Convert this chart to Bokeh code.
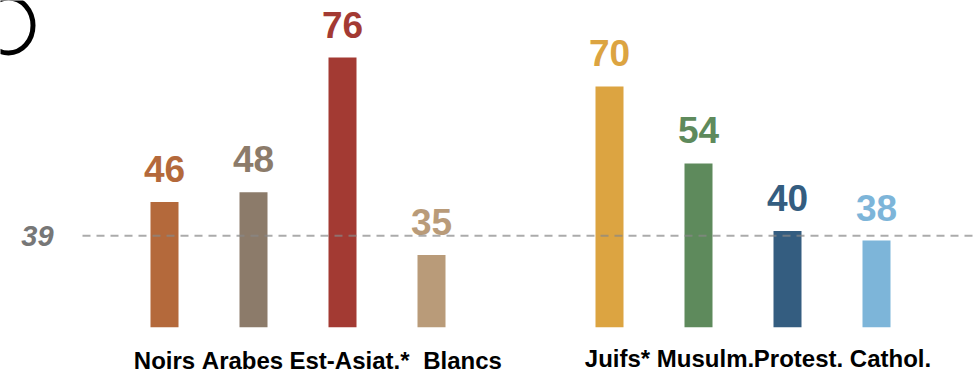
from bokeh.plotting import figure
from bokeh.models import Range1d, ColumnDataSource
from bokeh.core.properties import value
from bokeh.embed import file_html
from bokeh.resources import INLINE

# ---- data ----
group1_labels = ["Noirs", "Arabes", "Est-Asiat.*", "Blancs"]
group1_values = [46, 48, 76, 35]
group2_labels = ["Juifs*", "Musulm.", "Protest.", "Cathol."]
group2_values = [70, 54, 40, 38]
reference_value = 39
reference_label = "39"
baseline = 20

# ---- style ----
group1_colors = ["#b4693b", "#8c7b6a", "#a33a33", "#b99b79"]
group2_colors = ["#dca441", "#5e8a5c", "#345d80", "#7db5d9"]
group1_label_dx = [0, -11, 7, 31]
group2_label_dx = [8, 7, 11, 14]
FONT = "Liberation Sans"

W, H = 976, 376
# pixel calibration
PX0, PXU = 164.0, 89.0          # x: px of position 0, px per position
PY0, PYU = 326.7, 4.816         # y: px of baseline value, px per unit

def xdata(px):
    return (px - PX0) / PXU

def ydata(py):
    return baseline + (PY0 - py) / PYU

x_start, x_end = xdata(0), xdata(W)
y_end, y_start = ydata(0), ydata(H)

pos1 = list(range(len(group1_labels)))
pos2 = [len(group1_labels) + 1 + i for i in range(len(group2_labels))]

labels = group1_labels + group2_labels
values = group1_values + group2_values
positions = pos1 + pos2
colors = group1_colors + group2_colors

p = figure(width=W, height=H, output_backend="svg", toolbar_location=None,
           x_range=Range1d(x_start, x_end), y_range=Range1d(y_start, y_end),
           min_border=0, outline_line_color=None)
p.axis.visible = False
p.grid.visible = False
p.background_fill_color = "white"
p.border_fill_color = "white"

src = ColumnDataSource(dict(x=positions, top=values, color=colors,
                            txt=[str(v) for v in values], label=labels))

p.vbar(x="x", top="top", bottom=baseline, width=28 / PXU, color="color",
       line_color=None, source=src)

# value labels
p.text(x="x", y="top", text="txt", text_color="color", source=src,
       text_font=value(FONT), text_font_style="bold", text_font_size="37px",
       text_align="center", text_baseline="alphabetic", y_offset=-33)

# reference dashed line
p.segment(x0=[xdata(82)], y0=[reference_value], x1=[x_end], y1=[reference_value],
          line_color="#888888", line_alpha=0.7, line_width=2, line_dash="8 6")
p.text(x=[x_start], y=[reference_value], text=[reference_label],
       text_font=value(FONT), text_font_style="bold italic", text_font_size="29px",
       text_color="#777777", text_align="center", text_baseline="alphabetic",
       x_offset=37, y_offset=0)

# category labels
p.text(x=pos1, y=[baseline] * len(pos1), text=group1_labels,
       x_offset=group1_label_dx, y_offset=33,
       text_font=value(FONT), text_font_style="bold", text_font_size="24px",
       text_color="black", text_align="center", text_baseline="alphabetic")
p.text(x=pos2, y=[baseline] * len(pos2), text=group2_labels,
       x_offset=group2_label_dx, y_offset=31,
       text_font=value(FONT), text_font_style="bold", text_font_size="24px",
       text_color="black", text_align="center", text_baseline="alphabetic")

# decorative ring at top-left
p.ellipse(x=[xdata(8)], y=[ydata(25)], width=49, height=55,
          width_units="screen", height_units="screen",
          fill_color=None, line_color="black", line_width=5)

open("out.html", "w").write(file_html(p, INLINE))
